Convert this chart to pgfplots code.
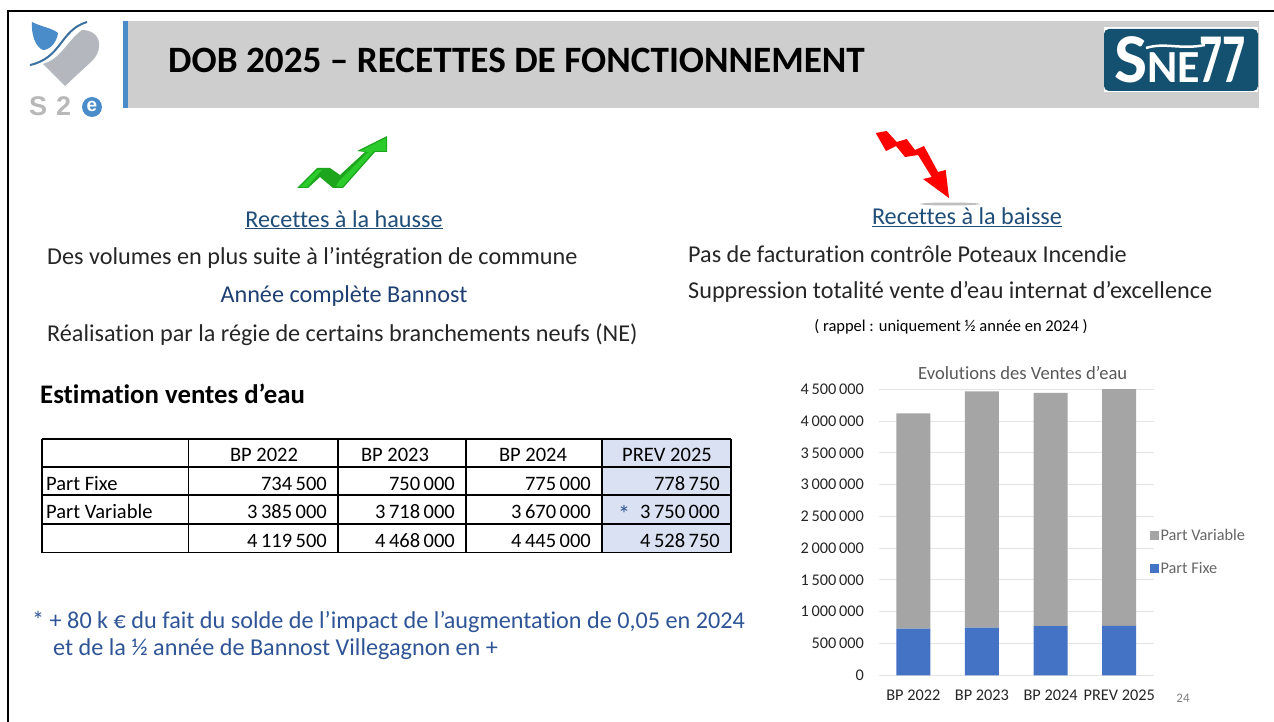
\documentclass[border=0pt]{standalone}
\usepackage{fontspec}
\setmainfont{Carlito}[Ligatures=NoCommon]
\newfontfamily\logofont{Liberation Sans}
\usepackage{pgfplots}
\pgfplotsset{compat=1.18}
\definecolor{headgray}{HTML}{CFCECE}
\definecolor{headblue}{HTML}{4A8CC9}
\definecolor{navy}{HTML}{1F3F73}
\definecolor{linkblue}{HTML}{1F4E79}
\definecolor{notes}{HTML}{2F5597}
\definecolor{body}{HTML}{262626}
\definecolor{snebg}{HTML}{14506F}
\definecolor{barblue}{HTML}{4472C4}
\definecolor{bargray}{HTML}{A5A5A5}
\definecolor{gridgray}{HTML}{E4E4E4}
\definecolor{prevfill}{HTML}{D9E1F2}
\definecolor{heartgray}{HTML}{B4B8BE}
\definecolor{upgreen}{HTML}{2CCB2C}
\definecolor{upgreendark}{HTML}{1DA51D}
\newcommand{\fs}[1]{\fontsize{#1}{#1}\selectfont}
\newcommand{\bodytext}[4]{\node[anchor=base west,inner sep=0pt,text=#4,font=\fs{24.2}] at (#1,#2) {#3};}
\newcommand{\cell}[3]{\node[anchor=base east,inner sep=0pt,font=\fs{20.5},text=black] at (#1,#2) {#3};}
\newcommand{\head}[3]{\node[anchor=base,inner sep=0pt,font=\fs{20.5},text=black] at (#1,#2) {#3};}
\begin{document}
\begin{tikzpicture}[x=1pt,y=-1pt]
\path[use as bounding box,fill=white] (0,0) rectangle (1274,722);
% slide frame
\draw[black,line width=2.5pt] (8,722) -- (8,11) -- (1274,11);
% header band
\fill[headgray] (127,21) rectangle (1259,108);
\fill[headblue] (123,21) rectangle (127.7,108);
\node[anchor=base west,inner sep=0pt,font=\fs{37.2}\bfseries,text=black] at (168,73) {DOB 2025 – RECETTES DE FONCTIONNEMENT};
% left logo
\fill[heartgray] (82,30) .. controls (94,30) and (100,38) .. (99,46) .. controls (99,52) and (96,57) .. (92,61) -- (65,86) -- (43,64) .. controls (62,58) and (66,42) .. (82,30);
\fill[headblue] (32,22) .. controls (42,27) and (52,28) .. (58,33) .. controls (57,42) and (50,50) .. (43,50) .. controls (35,47) and (31,33) .. (32,22);
\draw[headblue!80!black,line width=2pt] (30,65) .. controls (62,58) and (60,30) .. (87,22);
\node[anchor=base west,inner sep=0pt,font=\logofont\fs{27}\bfseries,text=black!28] at (29,116) {S};
\node[anchor=base west,inner sep=0pt,font=\logofont\fs{27}\bfseries,text=black!28] at (56,116) {2};
\fill[headblue] (92,107) circle (10);
\node[inner sep=0pt,font=\logofont\fs{19}\bfseries,text=white] at (92,106) {e};
% right logo
\fill[white] (1104,27) rectangle (1258,92);
\fill[snebg,rounded corners=5pt] (1104,29) rectangle (1258,91);
\node[anchor=base west,inner sep=0pt,font=\fs{70}\bfseries,text=white] at (1114,83) {S};
\node[anchor=base west,inner sep=0pt,font=\fs{46}\bfseries,text=white] at (1147,83) {NE};
\node[anchor=base west,inner sep=0pt,font=\fs{70}\bfseries,text=white] at (1199,83) {\scalebox{0.65}[1]{77}};
\draw[white,line width=2.5pt] (1146,48) .. controls (1165,42) and (1180,50) .. (1205,45);
% green arrow
\fill[upgreendark] (297,188) -- (317,168) -- (330,168) -- (340,175) -- (365,152) -- (357,151) -- (387,136) -- (387,152) -- (375,152) -- (343,188) -- (333,188) -- (320,177) -- (308,188) -- cycle;
\fill[upgreen] (300,187) -- (317,170) -- (322,170) -- (307,187) -- cycle (340,180) -- (368,152) -- (360,151) -- (386,138) -- (386,151) -- (374,151) -- (342,187) -- (336,186) -- cycle;
% red arrow
\fill[black!25] (950,204) ellipse (30 and 1.5);
\fill[red] (875.7,133) -- (886.7,131) -- (896.7,142) -- (906.7,139) -- (915,150) -- (924,146) -- (938,172) -- (945.7,170) -- (949,198) -- (923,179) -- (931.7,177) -- (918,155) -- (905,157) -- (896,146) -- (886,151) -- cycle;
% text blocks
\node[inner sep=0pt,anchor=base,font=\fs{24.2},text=linkblue] at (344,227) {\underline{Recettes à la hausse}};
\bodytext{47}{264}{Des volumes en plus suite à l’intégration de commune}{body}
\node[inner sep=0pt,anchor=base,font=\fs{24.2},text=navy] at (344,302) {Année complète Bannost};
\bodytext{47}{341}{Réalisation par la régie de certains branchements neufs (NE)}{body}
\node[inner sep=0pt,anchor=base,font=\fs{24.2},text=linkblue] at (967,225) {\underline{Recettes à la baisse}};
\bodytext{688}{262}{Pas de facturation contrôle Poteaux Incendie}{body}
\bodytext{688}{298}{Suppression totalité vente d’eau internat d’excellence}{body}
\node[inner sep=0pt,anchor=base,font=\fs{16.5},text=black] at (951,331) {( rappel : uniquement ½ année en 2024 )};
\node[anchor=base west,inner sep=0pt,font=\fs{26.8}\bfseries,text=black] at (40,403) {Estimation ventes d’eau};
% table
\fill[prevfill] (602,439) rectangle (731,552.5);
\foreach \yy in {439,467,495,524,552.5} \draw[black,line width=1.5pt] (42,\yy) -- (731,\yy);
\foreach \xx in {42,188.5,338,466,602,731} \draw[black,line width=1.5pt] (\xx,439) -- (\xx,552.5);
\head{264}{461}{BP 2022}\head{395}{461}{BP 2023}\head{533}{461}{BP 2024}\head{667}{461}{PREV 2025}
\node[anchor=base west,inner sep=0pt,font=\fs{20.5}] at (46,490) {Part Fixe};
\node[anchor=base west,inner sep=0pt,font=\fs{20.5}] at (46,518) {Part Variable};
\cell{327}{490}{734\,500}\cell{455}{490}{750\,000}\cell{591}{490}{775\,000}\cell{720}{490}{778\,750}
\cell{327}{518}{3\,385\,000}\cell{455}{518}{3\,718\,000}\cell{591}{518}{3\,670\,000}\cell{720}{518}{3\,750\,000}
\cell{327}{547}{4\,119\,500}\cell{455}{547}{4\,468\,000}\cell{591}{547}{4\,445\,000}\cell{720}{547}{4\,528\,750}
\node[anchor=base,inner sep=0pt,font=\fs{24},text=notes] at (624,522) {*};
% footnote
\bodytext{32}{628}{* + 80 k €  du fait du solde de l’impact de l’augmentation de 0,05 en 2024}{notes}
\bodytext{53}{655}{et de la ½ année de Bannost Villegagnon en +}{notes}
\node[anchor=base,inner sep=0pt,font=\fs{13},text=black!50] at (1183,702) {24};
% chart
\begin{axis}[
  at={(879pt,-675.3pt)},anchor=south west,
  scale only axis,width=274.5pt,height=286pt,
  ybar stacked,bar width=34pt,
  xmin=-0.5,xmax=3.5,ymin=0,ymax=4500000,
  xtick={0,1,2,3},
  xticklabels={BP 2022,BP 2023,BP 2024,PREV 2025},
  ytick={0,500000,1000000,1500000,2000000,2500000,3000000,3500000,4000000,4500000},
  scaled y ticks=false,
  /pgf/number format/assume math mode=true,
  /pgf/number format/.cd,fixed,precision=0,1000 sep={\,},/pgfplots/.cd,
  major tick length=0pt,
  axis line style={draw=none},
  ymajorgrids,
  grid style={gridgray,line width=1pt},
  tick label style={font=\fs{16.3},text=black!85},
  y tick label style={anchor=east,inner sep=0pt,xshift=-15pt},
  x tick label style={anchor=base,inner sep=0pt,yshift=-25pt},
  title={Evolutions des Ventes d\symbol{39}eau},
  title style={font=\fs{18.6},text=black!65,anchor=base,inner sep=0pt,at={(0.5,1)},xshift=6.5pt,yshift=4pt},
  reverse legend,
  legend style={at={(0.985,0.431)},anchor=west,draw=none,fill=none,inner sep=0pt,
    font=\fs{16.3},text=black!60,row sep=17pt,legend cell align=left},
  legend image code/.code={\path[#1] (0pt,-4.5pt) rectangle (9pt,4.5pt);},
]
\addplot[fill=barblue,draw=none] coordinates {(0,734500) (1,750000) (2,775000) (3,778750)};
\addplot[fill=bargray,draw=none] coordinates {(0,3385000) (1,3718000) (2,3670000) (3,3750000)};
\legend{Part Fixe,Part Variable}
\end{axis}
\end{tikzpicture}
\end{document}
